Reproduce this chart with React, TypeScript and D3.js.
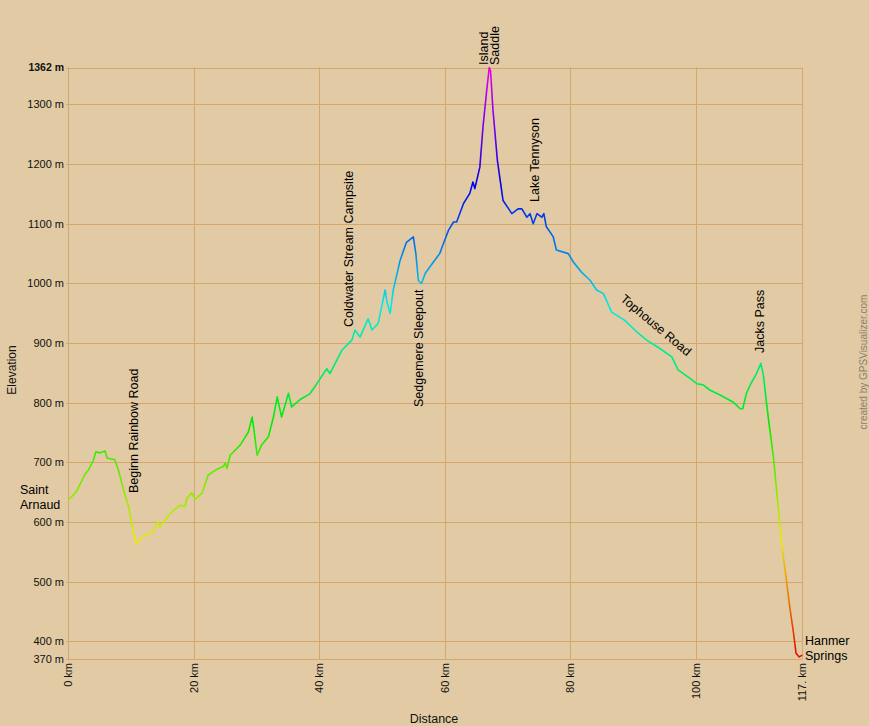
import React from "react";
import * as d3 from "d3";

const distances = [
  0.0, 1.3, 2.7, 3.2, 4.0, 4.4, 5.0, 5.85, 6.2, 7.4, 8.0, 8.8, 9.6, 10.1, 10.8, 11.4, 12.2, 13.3,
  14.3, 14.6, 16.5, 17.8, 18.6, 18.9, 19.7, 20.2, 21.3, 22.3, 23.6, 24.7, 25.0, 25.3, 25.8, 27.4,
  28.7, 29.3, 29.6, 30.1, 30.8, 31.9, 32.7, 33.3, 34.0, 35.1, 35.6, 36.9, 38.5, 39.3, 41.2, 41.7,
  43.6, 45.2, 45.7, 46.5, 47.8, 48.4, 49.4, 50.5, 50.8, 51.3, 51.8, 52.9, 53.9, 55.0, 55.4, 55.8,
  56.3, 56.9, 58.2, 59.2, 59.8, 60.6, 61.4, 61.9, 63.0, 64.0, 64.5, 64.8, 65.6, 66.1, 66.7, 67.1,
  67.3, 67.7, 68.4, 69.3, 70.7, 71.7, 72.3, 73.1, 73.6, 74.1, 74.7, 75.5, 75.8, 76.2, 76.8, 77.3,
  77.8, 79.7, 80.5, 81.8, 83.2, 84.2, 85.3, 86.6, 88.7, 90.6, 92.2, 94.3, 96.2, 97.2, 99.1, 100.2,
  101.2, 102.3, 103.9, 106.0, 107.1, 107.5, 108.1, 108.8, 109.7, 110.4, 110.8, 111.3, 111.7, 112.4,
  113.2, 113.7, 114.4, 115.0, 115.6, 116.0, 116.5, 117.0,
];
const elevations = [
  637, 651, 681, 687, 704, 718, 716, 719, 707, 705, 687, 654, 626, 598, 564, 570, 578, 581,
  600, 592, 617, 628, 626, 640, 649, 638, 648, 679, 688, 693, 699, 690, 712, 729,
  751, 776, 754, 712, 729, 743, 776, 810, 776, 816, 793, 805, 815, 827, 857, 849,
  888, 905, 922, 910, 941, 922, 933, 989, 969, 950, 989, 1039, 1069, 1078, 1050, 1005,
  1000, 1017, 1036, 1050, 1067, 1089, 1103, 1103, 1134, 1151, 1170, 1159, 1195, 1262, 1324, 1362,
  1357, 1290, 1206, 1139, 1117, 1125, 1125, 1111, 1117, 1100, 1117, 1111, 1117, 1095, 1086, 1078,
  1056, 1050, 1036, 1019, 1005, 989, 983, 952, 938, 919, 905, 891, 877, 855, 841, 832,
  830, 821, 813, 801, 790, 790, 816, 832, 849, 866, 846, 799, 765, 709,
  620, 564, 508, 458, 414, 380, 374, 377,
];

const xTicks = [0, 20, 40, 60, 80, 100, 117];
const xTickLabels = ["0 km", "20 km", "40 km", "60 km", "80 km", "100 km", "117. km"];
const yTicks = [370, 400, 500, 600, 700, 800, 900, 1000, 1100, 1200, 1300, 1362];

const verticalWaypoints = [
  { lines: ["Beginn Rainbow Road"], km: 10.45, bottom: 493 },
  { lines: ["Coldwater Stream Campsite"], km: 44.7, bottom: 327 },
  { lines: ["Sedgemere Sleepout"], km: 55.9, bottom: 407 },
  { lines: ["Island", "Saddle"], km: 67.1, bottom: 65 },
  { lines: ["Lake Tennyson"], km: 74.4, bottom: 202 },
  { lines: ["Jacks Pass"], km: 110.2, bottom: 353 },
];

const W = 869;
const H = 726;
const FONT = "'Liberation Sans', Arial, sans-serif";
const BG = "#e2cba4";
const GRID = "#d4a76b";

export default function App() {
  const x = d3.scaleLinear().domain([0, 117]).range([68.3, 802.3]);
  const y = d3.scaleLinear().domain([370, 1362]).range([659.3, 67.5]);
  const hue = d3.scaleLinear().domain([370, 1362]).range([0, 300]);

  const data = distances.map((d, i) => ({ d, e: elevations[i] }));
  const line = d3
    .line<{ d: number; e: number }>()
    .x((p) => x(p.d))
    .y((p) => y(p.e));

  const stops = d3.range(0, 1.0001, 0.025).map((t) => {
    const e = 370 + t * (1362 - 370);
    return { t, color: d3.hsl(hue(e), 1, 0.46).formatHex() };
  });

  return (
    <div style={{ position: "absolute", left: 0, top: 0 }}>
      <svg width={W} height={H} style={{ display: "block" }}>
        <defs>
          <linearGradient
            id="elevGrad"
            gradientUnits="userSpaceOnUse"
            x1={0}
            y1={y(370)}
            x2={0}
            y2={y(1362)}
          >
            {stops.map((s, i) => (
              <stop key={i} offset={s.t} stopColor={s.color} />
            ))}
          </linearGradient>
        </defs>
        <rect x={0} y={0} width={W} height={H} fill={BG} />

        {/* horizontal grid */}
        {yTicks.map((t) => (
          <line
            key={"h" + t}
            x1={x(0) - 2}
            x2={x(117)}
            y1={Math.round(y(t)) + 0.5}
            y2={Math.round(y(t)) + 0.5}
            stroke={GRID}
            strokeWidth={1}
          />
        ))}
        {/* vertical grid */}
        {xTicks.map((t) => (
          <line
            key={"v" + t}
            x1={Math.round(x(t)) + 0.5}
            x2={Math.round(x(t)) + 0.5}
            y1={y(1362)}
            y2={y(370)}
            stroke={GRID}
            strokeWidth={1}
          />
        ))}

        {/* y tick labels */}
        {yTicks.map((t) => (
          <text
            key={"yl" + t}
            x={64}
            y={y(t)}
            dy="0.35em"
            textAnchor="end"
            fontFamily={FONT}
            fontSize={t === 1362 ? 10.5 : 11}
            fontWeight={t === 1362 ? "bold" : "normal"}
            fill="#111"
          >
            {t} m
          </text>
        ))}

        {/* x tick labels */}
        {xTicks.map((t, i) => (
          <text
            key={"xl" + t}
            transform={`translate(${x(t)},663) rotate(-90)`}
            dy="0.35em"
            textAnchor="end"
            fontFamily={FONT}
            fontSize={11}
            fill="#111"
          >
            {xTickLabels[i]}
          </text>
        ))}

        {/* axis titles */}
        <text
          transform={`translate(12,370) rotate(-90)`}
          dy="0.35em"
          textAnchor="middle"
          fontFamily={FONT}
          fontSize={12}
          fill="#111"
        >
          Elevation
        </text>
        <text x={434} y={719} dy="0.35em" textAnchor="middle" fontFamily={FONT} fontSize={12.5} fill="#111">
          Distance
        </text>

        {/* profile */}
        <path
          d={line(data) || ""}
          fill="none"
          stroke="url(#elevGrad)"
          strokeWidth={1.6}
          strokeLinejoin="round"
        />

        {/* vertical waypoint labels */}
        {verticalWaypoints.map((w, i) =>
          w.lines.map((ln, j) => {
            const n = w.lines.length;
            const cx = x(w.km) + (j - (n - 1) / 2) * 11.5;
            return (
              <text
                key={"w" + i + "_" + j}
                transform={`translate(${cx},${w.bottom}) rotate(-90)`}
                dy="0.35em"
                textAnchor="start"
                fontFamily={FONT}
                fontSize={12.5}
                fill="#000"
              >
                {ln}
              </text>
            );
          })
        )}

        {/* Tophouse Road diagonal */}
        <text
          transform={`translate(656,325) rotate(40)`}
          dy="0.35em"
          textAnchor="middle"
          fontFamily={FONT}
          fontSize={12.5}
          fill="#000"
        >
          Tophouse Road
        </text>

        {/* start / end labels */}
        <text x={20} y={494} fontFamily={FONT} fontSize={12.5} fill="#000">
          Saint
        </text>
        <text x={20} y={509} fontFamily={FONT} fontSize={12.5} fill="#000">
          Arnaud
        </text>
        <text x={805} y={645} fontFamily={FONT} fontSize={12.5} fill="#000">
          Hanmer
        </text>
        <text x={805} y={660} fontFamily={FONT} fontSize={12.5} fill="#000">
          Springs
        </text>

        {/* credit */}
        <text
          transform={`translate(863,362) rotate(-90)`}
          dy="0.35em"
          textAnchor="middle"
          fontFamily={FONT}
          fontSize={10}
          fill="#8a8070"
        >
          created by GPSVisualizer.com
        </text>
      </svg>
    </div>
  );
}
